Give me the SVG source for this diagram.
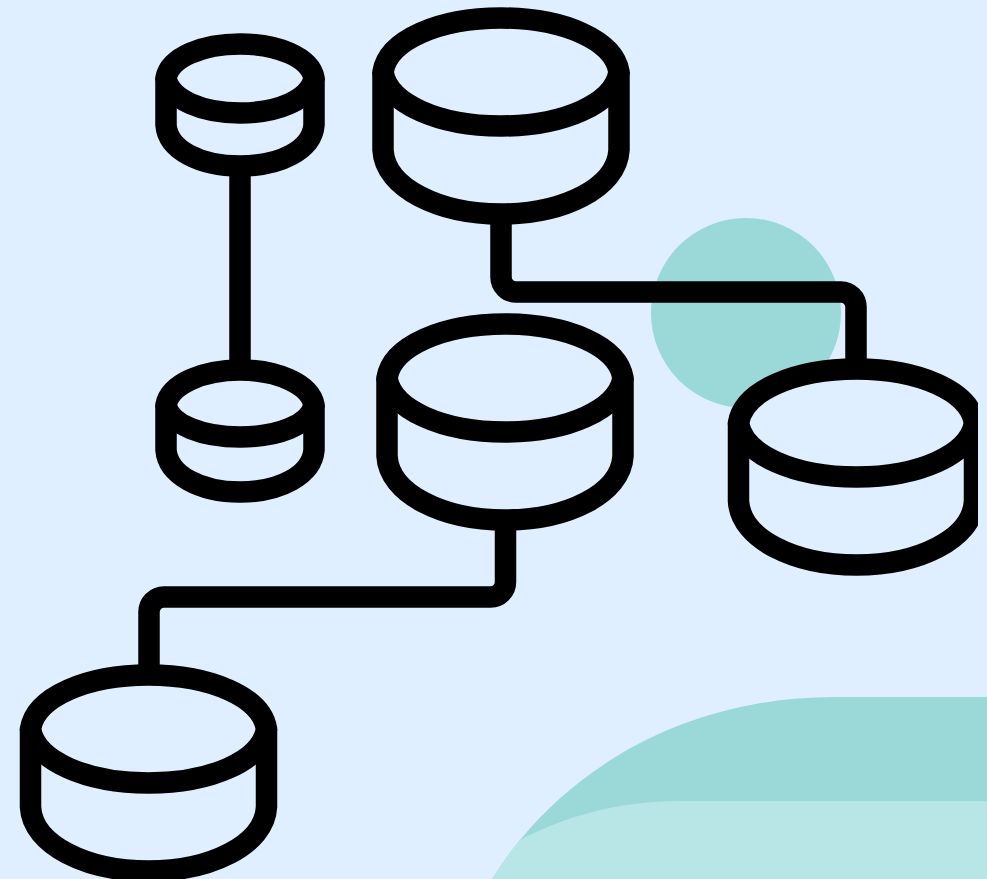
<svg xmlns="http://www.w3.org/2000/svg" width="987" height="879" viewBox="0 0 987 879">
<style>
.l{fill:none;stroke:#000;stroke-width:21.5;stroke-linejoin:round;stroke-linecap:butt}
.b{fill:#dfefff;stroke:#000;stroke-width:21.5;stroke-linejoin:round}
</style>
<defs>
<clipPath id="c"><rect width="978" height="879"/></clipPath>
<g id="big"><path class="b" d="M-118 0V78C-116 116 -62 142 0 142S116 116 118 78V0"/><path class="b" d="M-118 0C-113 32 -62 54 0 54S113 32 118 0C113 -32 62 -54 0 -54S-113 -32 -118 0Z"/></g>
</defs>
<rect width="987" height="879" fill="#dfefff"/>
<g id="bg">
<circle cx="746" cy="313" r="95" fill="#9bd8d8"/>
<path d="M987 697H835C700 697 590 755 520 840Q505 858 492 879H987Z" fill="#9bd8d8"/>
<path d="M987 801H680C620 801 565 816 520 840Q505 858 492 879H987Z" fill="#b8e5e5"/>
</g>
<g id="connectors">
<path class="l" d="M240 170V370"/>
<path class="l" d="M501 215V277A15 15 0 0 0 516 292H841A15 15 0 0 1 856 307V370"/>
<path class="l" d="M505.500 520V582A15 15 0 0 1 490.500 597H164A15 15 0 0 0 149 612V675"/>
</g>
<g id="n1"><path class="b" d="M166 78V125C168 150 200 166 240 166S312 150 314 125V78"/><path class="b" d="M166 78C170 100 203 113 240 113S310 100 314 78C310 57 277 44 240 44S170 57 166 78Z"/></g>
<g id="n2"><path class="b" d="M166 405V450C168 475 200 492 240 492S312 475 314 450V405"/><path class="b" d="M166 405C170 425 203 437 240 437S310 425 314 405C310 384 277 370 240 370S170 384 166 405Z"/></g>
<g id="n3"><use href="#big" x="501" y="72"/></g>
<g id="n4"><use href="#big" x="505" y="378"/></g>
<g id="n5" clip-path="url(#c)"><use href="#big" x="856.500" y="423"/></g>
<g id="n6"><use href="#big" x="148.500" y="729"/></g>
</svg>
